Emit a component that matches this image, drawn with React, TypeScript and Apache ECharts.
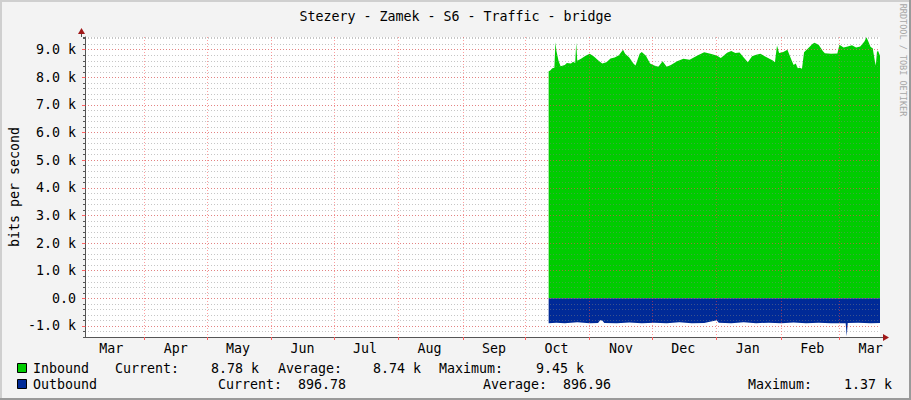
import { useEffect, useRef } from "react";
import * as echarts from "echarts";

// inbound traffic, bits per second (drawn above zero)
const inDates = [
  "2022-10-12 06:00", "2022-10-13", "2022-10-14", "2022-10-15", "2022-10-15 12:00", "2022-10-16",
  "2022-10-17", "2022-10-18", "2022-10-20", "2022-10-21", "2022-10-23", "2022-10-24",
  "2022-10-25", "2022-10-25 12:00", "2022-10-26", "2022-10-28", "2022-10-30", "2022-11-01",
  "2022-11-03", "2022-11-05", "2022-11-07", "2022-11-09", "2022-11-11", "2022-11-13",
  "2022-11-15", "2022-11-17", "2022-11-18", "2022-11-20", "2022-11-22", "2022-11-23",
  "2022-11-25", "2022-11-26", "2022-11-28", "2022-11-30", "2022-12-02", "2022-12-04",
  "2022-12-06", "2022-12-08", "2022-12-10", "2022-12-13", "2022-12-16", "2022-12-19",
  "2022-12-21", "2022-12-23", "2022-12-26", "2022-12-29", "2023-01-01", "2023-01-03",
  "2023-01-06", "2023-01-08", "2023-01-10", "2023-01-12", "2023-01-14", "2023-01-16",
  "2023-01-18", "2023-01-20", "2023-01-22", "2023-01-25", "2023-01-28", "2023-01-29",
  "2023-01-30", "2023-01-31", "2023-02-02", "2023-02-04", "2023-02-06", "2023-02-07",
  "2023-02-08", "2023-02-09", "2023-02-10", "2023-02-11", "2023-02-12", "2023-02-14",
  "2023-02-16", "2023-02-17", "2023-02-19", "2023-02-21", "2023-02-22", "2023-02-25",
  "2023-02-28", "2023-03-01", "2023-03-03", "2023-03-05", "2023-03-07", "2023-03-09",
  "2023-03-11", "2023-03-13", "2023-03-14", "2023-03-15", "2023-03-16", "2023-03-17",
  "2023-03-18", "2023-03-18 12:00", "2023-03-19", "2023-03-19 12:00", "2023-03-20 12:00",
];
const inValues = [
  8220, 8250, 8330, 8350, 9270, 8950,
  8600, 8400, 8450, 8520, 8500, 8560,
  8520, 9250, 8600, 8680, 8780, 8850,
  8750, 8620, 8500, 8550, 8680, 8720,
  8800, 9000, 8850, 8720, 8500, 8430,
  8850, 8920, 8780, 8500, 8430, 8380,
  8580, 8380, 8450, 8580, 8670, 8640,
  8720, 8800, 8910, 8850, 8790, 8700,
  8890, 8950, 8880, 8900, 8720, 8550,
  8760, 8820, 8850, 8730, 8610, 8550,
  9150, 8880, 8920, 9000, 8620, 8450,
  8500, 8330, 8350, 8310, 8910, 9050,
  9210, 9250, 9180, 8950, 8870, 8850,
  8860, 9180, 9080, 9120, 9160, 9080,
  9120, 9300, 9450, 9280, 9100, 9050,
  8600, 8430, 8900, 8970, 8780,
];

// outbound traffic, bits per second (drawn below zero)
const outDates = [
  "2022-10-12 06:00", "2022-10-16", "2022-10-20", "2022-10-26", "2022-11-01", "2022-11-05",
  "2022-11-06", "2022-11-07", "2022-11-08", "2022-11-14", "2022-11-20", "2022-11-26",
  "2022-12-02", "2022-12-08", "2022-12-14", "2022-12-20", "2022-12-26", "2022-12-31",
  "2023-01-01", "2023-01-02", "2023-01-08", "2023-01-14", "2023-01-20", "2023-01-26",
  "2023-02-01", "2023-02-07", "2023-02-13", "2023-02-19", "2023-02-25", "2023-03-03",
  "2023-03-04", "2023-03-04 12:00", "2023-03-05", "2023-03-10", "2023-03-16", "2023-03-20 12:00",
];
const outValues = [
  900, 880, 905, 870, 900, 890,
  790, 800, 895, 905, 875, 900,
  880, 905, 870, 900, 895, 810,
  790, 880, 905, 870, 900, 880,
  905, 875, 900, 885, 905, 900,
  900, 1370, 890, 880, 900, 897,
];

// x axis: month boundaries (grid) and mid-month label positions
const xStart = "2022-03-03 10:00";
const xEnd = "2023-03-20 12:00";
const monthStarts = [
  "2022-04-01", "2022-05-01", "2022-06-01", "2022-07-01", "2022-08-01", "2022-09-01",
  "2022-10-01", "2022-11-01", "2022-12-01", "2023-01-01", "2023-02-01", "2023-03-01",
];
const monthLabelDates = [
  "2022-03-16", "2022-04-16", "2022-05-16", "2022-06-16", "2022-07-16", "2022-08-16",
  "2022-09-16", "2022-10-16", "2022-11-16", "2022-12-16", "2023-01-16", "2023-02-16",
  "2023-03-16",
];
const xTickLabels = ["Mar", "Apr", "May", "Jun", "Jul", "Aug", "Sep", "Oct", "Nov", "Dec", "Jan", "Feb", "Mar"];

// y axis
const yMajorTicks = [-1000, 0, 1000, 2000, 3000, 4000, 5000, 6000, 7000, 8000, 9000];

// legend rows
const legendNames = ["Inbound", "Outbound"];
const legendColors = ["#00CC00", "#002A97"];
const currentTexts = ["8.78 k", "896.78"];
const averageTexts = ["8.74 k", "896.96"];
const maximumTexts = ["9.45 k", "1.37 k"];

const FONT = '"DejaVu Sans Mono", monospace';
const FS = 13.3;

// "YYYY-MM-DD[ HH:MM]" -> local timestamp
const toTime = (s: string) => {
  const [d, t] = s.split(" ");
  const [y, m, day] = d.split("-").map(Number);
  const [hh, mm] = (t || "00:00").split(":").map(Number);
  return new Date(y, m - 1, day, hh, mm).getTime();
};

const labelTimes = monthLabelDates.map(toTime);
const fmtX = (v: number) => {
  const i = labelTimes.indexOf(v);
  return i >= 0 ? xTickLabels[i] : "";
};
const fmtY = (v: number) => (v === 0 ? "0.0" : (v / 1000).toFixed(1) + " k");

const App = () => {
  const ref = useRef<HTMLDivElement>(null);

  useEffect(() => {
    if (!ref.current) return;
    const chart = echarts.init(ref.current, undefined, { renderer: "svg" });

    const txt = (text: string, x: number, y: number) => ({
      type: "text",
      x,
      y,
      z: 100,
      silent: true,
      style: { text, fill: "#000", font: `${FS}px ${FONT}`, verticalAlign: "middle" },
    });

    const rowY = [368, 384];
    const legend: any[] = [];
    legendNames.forEach((name, i) => {
      legend.push({
        type: "rect",
        z: 100,
        silent: true,
        shape: { x: 17.5, y: rowY[i] - 4.5, width: 9, height: 9 },
        style: { fill: legendColors[i], stroke: "#000", lineWidth: 1 },
      });
      legend.push(txt(name, 33, rowY[i]));
    });
    // inbound row
    legend.push(txt("Current:", 115, rowY[0]));
    legend.push(txt(currentTexts[0], 211, rowY[0]));
    legend.push(txt("Average:", 278, rowY[0]));
    legend.push(txt(averageTexts[0], 373, rowY[0]));
    legend.push(txt("Maximum:", 439, rowY[0]));
    legend.push(txt(maximumTexts[0], 536, rowY[0]));
    // outbound row
    legend.push(txt("Current:", 218, rowY[1]));
    legend.push(txt(currentTexts[1], 298, rowY[1]));
    legend.push(txt("Average:", 483, rowY[1]));
    legend.push(txt(averageTexts[1], 563, rowY[1]));
    legend.push(txt("Maximum:", 748, rowY[1]));
    legend.push(txt(maximumTexts[1], 844, rowY[1]));

    const decor: any[] = [
      // frame
      { type: "line", shape: { x1: 0, y1: 1, x2: 911, y2: 1 }, style: { stroke: "#cfcfcf", lineWidth: 2 } },
      { type: "line", shape: { x1: 1, y1: 0, x2: 1, y2: 400 }, style: { stroke: "#cfcfcf", lineWidth: 2 } },
      { type: "line", shape: { x1: 0, y1: 399, x2: 911, y2: 399 }, style: { stroke: "#9a9a9a", lineWidth: 2 } },
      { type: "line", shape: { x1: 910, y1: 0, x2: 910, y2: 400 }, style: { stroke: "#9a9a9a", lineWidth: 2 } },
      // axis extensions and arrows
      { type: "line", shape: { x1: 880, y1: 337.5, x2: 884, y2: 337.5 }, style: { stroke: "#555", lineWidth: 1 } },
      { type: "polygon", shape: { points: [[883, 334], [889, 337.5], [883, 341]] }, style: { fill: "#a01818" } },
      { type: "line", shape: { x1: 81.5, y1: 37, x2: 81.5, y2: 32 }, style: { stroke: "#555", lineWidth: 1 } },
      { type: "polygon", shape: { points: [[78, 34], [81.5, 28], [85, 34]] }, style: { fill: "#a01818" } },
      // watermark
      {
        type: "text",
        x: 902.5,
        y: 60,
        rotation: -Math.PI / 2,
        style: {
          text: "RRDTOOL / TOBI OETIKER",
          fill: "#a6a6a6",
          font: `8.5px ${FONT}`,
          align: "center",
          verticalAlign: "middle",
        },
      },
    ].map((e) => ({ ...e, z: 100, silent: true }));

    chart.setOption({
      animation: false,
      backgroundColor: "#f3f3f3",
      title: {
        text: "Stezery - Zamek - S6 - Traffic - bridge",
        left: "center",
        top: 5,
        textStyle: { fontFamily: FONT, fontSize: FS, fontWeight: "normal", color: "#000" },
      },
      grid: {
        left: 81,
        right: 31,
        top: 37,
        bottom: 63,
        show: true,
        backgroundColor: "#ffffff",
        borderWidth: 0,
      },
      xAxis: {
        type: "value",
        min: toTime(xStart),
        max: toTime(xEnd),
        z: 3,
        axisLine: { show: true, onZero: false, lineStyle: { color: "#555", width: 1 } },
        axisTick: {
          show: true,
          customValues: monthStarts.map(toTime),
          length: 3,
          lineStyle: { color: "#ff6060" },
        },
        axisLabel: {
          show: true,
          customValues: labelTimes,
          margin: 5,
          fontFamily: FONT,
          fontSize: FS,
          color: "#000",
          hideOverlap: false,
          formatter: fmtX,
        },
        splitLine: {
          show: true,
          lineStyle: { color: "rgba(255,64,64,0.5)", type: [1, 2], width: 1 },
        },
      },
      yAxis: [
        {
          type: "value",
          min: -1400,
          max: 9460,
          interval: 200,
          position: "left",
          z: 3,
          axisLine: { show: true, lineStyle: { color: "#555", width: 1 } },
          axisTick: { show: true, length: 2, lineStyle: { color: "#555" } },
          axisLabel: { show: false },
          splitLine: {
            show: true,
            lineStyle: { color: "rgba(128,128,128,0.45)", type: [1, 2], width: 1 },
          },
          name: "bits per second",
          nameLocation: "middle",
          nameGap: 64,
          nameTextStyle: { fontFamily: FONT, fontSize: FS, color: "#000" },
        },
        {
          type: "value",
          min: -1400,
          max: 9460,
          position: "left",
          offset: 0,
          z: 4,
          axisLine: { show: false },
          axisTick: {
            show: true,
            customValues: yMajorTicks,
            length: 3,
            lineStyle: { color: "#ff6060" },
          },
          axisLabel: {
            customValues: yMajorTicks,
            margin: 9,
            fontFamily: FONT,
            fontSize: FS,
            color: "#000",
            formatter: fmtY,
          },
          splitLine: {
            show: true,
            lineStyle: { color: "rgba(255,64,64,0.5)", type: [1, 2], width: 1 },
          },
        },
      ],
      series: [
        {
          name: "Inbound",
          type: "line",
          yAxisIndex: 0,
          data: inDates.map((d, i) => [toTime(d), inValues[i]]),
          showSymbol: false,
          silent: true,
          z: 2,
          lineStyle: { width: 0, color: "#00CC00" },
          itemStyle: { color: "#00CC00" },
          areaStyle: { color: "#00CC00", opacity: 1 },
        },
        {
          name: "Outbound",
          type: "line",
          yAxisIndex: 0,
          data: outDates.map((d, i) => [toTime(d), -outValues[i]]),
          showSymbol: false,
          silent: true,
          z: 2,
          lineStyle: { width: 0, color: "#002A97" },
          itemStyle: { color: "#002A97" },
          areaStyle: { color: "#002A97", opacity: 1 },
        },
      ],
      graphic: { elements: [...decor, ...legend] },
    });

    return () => chart.dispose();
  }, []);

  return (
    <div
      ref={ref}
      style={{ position: "fixed", left: 0, top: 0, width: 911, height: 400 }}
    />
  );
};

export default App;
